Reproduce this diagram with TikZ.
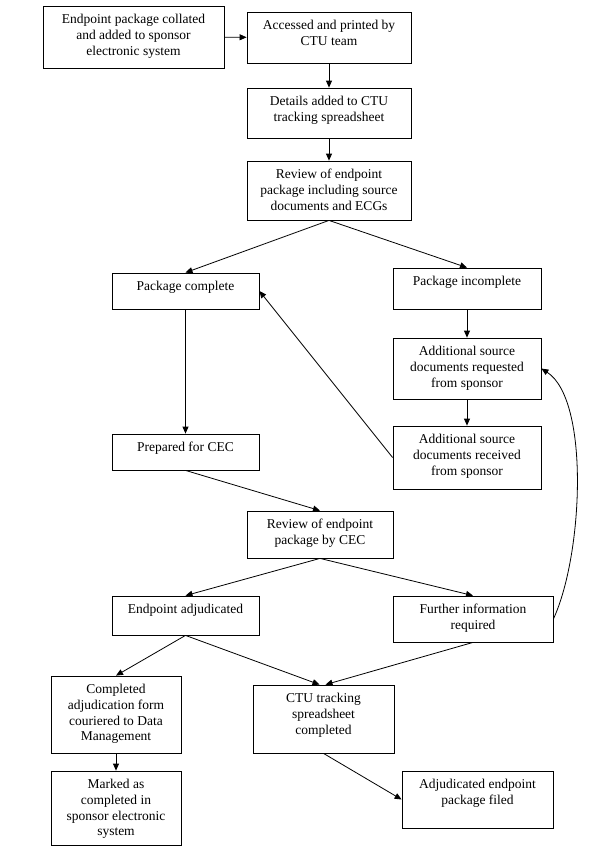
\documentclass[tikz,border=0pt]{standalone}
\usepackage{fontspec}
\setmainfont{Liberation Serif}
\usetikzlibrary{arrows.meta}
\tikzset{
    box/.style={draw, line width=0.8pt, inner sep=0pt},
    txt/.style={anchor=north, align=center, inner xsep=0pt, inner ysep=8.5pt,
        font=\fontsize{13.5}{15.7}\selectfont},
    arr/.style={line width=0.8pt, -{Triangle[length=7pt,width=6pt]}}
}
\begin{document}
\begin{tikzpicture}[x=1pt, y=-1pt]
        \useasboundingbox (0, 0) rectangle (600, 868);

        %%draw the boxes
        \node[box, minimum width=181, minimum height=62,
            label={[txt]north:{Endpoint package collated\\and added to sponsor\\electronic system}}]
            (collated) at (133.5, 37){};
        \node[box, minimum width=164, minimum height=51,
            label={[txt]north:{Accessed and printed by\\CTU team}}]
            (accessed) at (329, 37.5){};
        \node[box, minimum width=164, minimum height=50,
            label={[txt]north:{Details added to CTU\\tracking spreadsheet}}]
            (details) at (329, 113){};
        \node[box, minimum width=164, minimum height=59,
            label={[txt]north:{Review of endpoint\\package including source\\documents and ECGs}}]
            (review) at (329, 190.5){};

        \node[box, minimum width=147, minimum height=36,
            label={[txt]north:{Package complete}}]
            (complete) at (185.5, 291){};
        \node[box, minimum width=148, minimum height=41,
            label={[txt]north:{Package incomplete}}]
            (incomplete) at (467, 288.5){};
        \node[box, minimum width=148, minimum height=61,
            label={[txt]north:{Additional source\\documents requested\\from sponsor}}]
            (requested) at (467, 368.5){};
        \node[box, minimum width=148, minimum height=63,
            label={[txt]north:{Additional source\\documents received\\from sponsor}}]
            (received) at (467, 457.5){};
        \node[box, minimum width=147, minimum height=36,
            label={[txt]north:{Prepared for CEC}}]
            (prepared) at (185.5, 452){};

        \node[box, minimum width=146, minimum height=47,
            label={[txt]north:{Review of endpoint\\package by CEC}}]
            (cecreview) at (320, 534.5){};
        \node[box, minimum width=147, minimum height=39,
            label={[txt]north:{Endpoint adjudicated}}]
            (adjudicated) at (185.5, 615.5){};
        \node[box, minimum width=160, minimum height=46,
            label={[txt]north:{Further information\\required}}]
            (further) at (473, 619){};

        \node[box, minimum width=130, minimum height=77,
            label={[txt]north:{Completed\\adjudication form\\couriered to Data\\Management}}]
            (formsent) at (116, 714.5){};
        \node[box, minimum width=130, minimum height=74,
            label={[txt]north:{Marked as\\completed in\\sponsor electronic\\system}}]
            (marked) at (116, 808){};
        \node[box, minimum width=141, minimum height=68,
            label={[txt]north:{CTU tracking\\spreadsheet\\completed}}]
            (ctudone) at (323.5, 719){};
        \node[box, minimum width=151, minimum height=57,
            label={[txt]north:{Adjudicated endpoint\\package filed}}]
            (filed) at (477.5, 799.5){};

        %%draw the arrows
        \draw[arr] (collated) to (accessed);
        \draw[arr] (accessed) to (details);
        \draw[arr] (details) to (review);
        \draw[arr] (review.south) to (complete.north);
        \draw[arr] (review.south) to (incomplete.north);
        \draw[arr] (complete) to (prepared);
        \draw[arr] (incomplete) to (requested);
        \draw[arr] (requested) to (received);
        \draw[arr] (received.west) to (complete.east);
        \draw[arr] (prepared.south) to (cecreview.north);
        \draw[arr] (cecreview.south) to (adjudicated.north);
        \draw[arr] (cecreview.south) to (further.north);
        \draw[arr] (further.east) .. controls (583, 555) and (590, 400) .. (requested.east);
        \draw[arr] (adjudicated.south) to (formsent.north);
        \draw[arr] (adjudicated.south) to ([xshift=-4]ctudone.north);
        \draw[arr] (further.south) to ([xshift=2]ctudone.north);
        \draw[arr] (formsent) to (marked);
        \draw[arr] (ctudone.south) to (filed.west);

    \end{tikzpicture}
\end{document}
